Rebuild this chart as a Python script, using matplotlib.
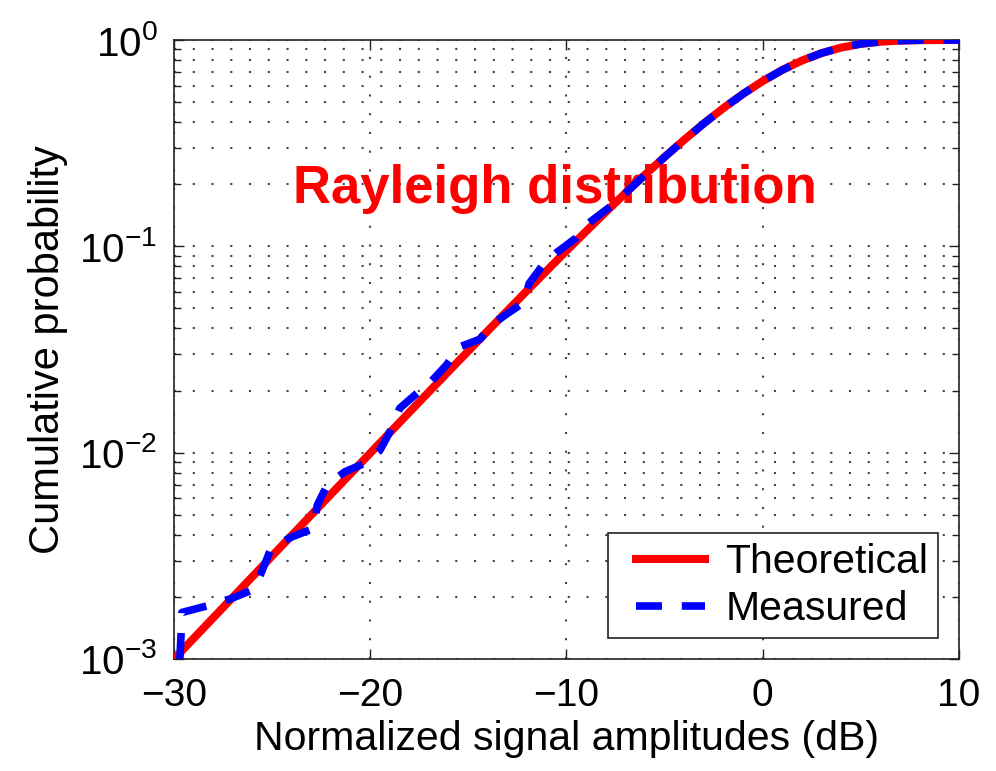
import matplotlib
matplotlib.use('Agg')
import matplotlib.pyplot as plt
from matplotlib.ticker import NullFormatter, LogLocator
from matplotlib.legend_handler import HandlerLine2D

plt.rcParams['font.family'] = ['Liberation Sans', 'DejaVu Sans']
plt.rcParams['mathtext.fontset'] = 'custom'
plt.rcParams['mathtext.rm'] = 'Liberation Sans'
plt.rcParams['mathtext.it'] = 'Liberation Sans:italic'
plt.rcParams['mathtext.bf'] = 'Liberation Sans:bold'

# Theoretical Rayleigh CDF (dB, probability)
theo_db = [-30, -28, -26, -24, -22, -20, -18, -16, -14, -12, -10, -9, -8, -7, -6,
           -5, -4, -3, -2, -1, 0, 1, 2, 3, 4, 5, 6, 7, 8, 9, 10]
theo_p = [0.0009995, 0.0015836, 0.0025087, 0.0039732, 0.0062897, 0.0099502,
          0.015724, 0.024806, 0.039029, 0.061147, 0.095163, 0.11829, 0.14657,
          0.18088, 0.22219, 0.27114, 0.32838, 0.39418, 0.46794, 0.54812,
          0.63212, 0.71606, 0.79502, 0.86403, 0.91888, 0.95767, 0.98133,
          0.99335, 0.99818, 0.99965, 0.99995]

# Measured CDF
meas_db = [-29.7, -29.65, -29.6, -28.3, -27.1, -25.9, -25.4, -25.06, -24.04, -22.9,
           -22.7, -22.2, -21.3, -20.3, -19.5, -19.0, -18.5, -17.7, -16.9, -16.1,
           -15.5, -14.4, -13.8, -12.2, -11.9, -11.2, -10.5, -9.5, -8.9, -7.8,
           -7, -6, -5, -4, -3, -2, -1, 0, 1, 2, 3, 4, 5, 6, 7, 8, 9, 10]
meas_p = [0.001, 0.00126, 0.00168, 0.00181, 0.00196, 0.00218, 0.00284, 0.00342,
          0.00389, 0.00429, 0.00556, 0.00695, 0.00807, 0.00887, 0.0103, 0.0126,
          0.0164, 0.0191, 0.0221, 0.0267, 0.0324, 0.0355, 0.0419, 0.0533, 0.0661,
          0.0813, 0.0933, 0.110, 0.129, 0.155,
          0.181, 0.222, 0.271, 0.328, 0.394, 0.468, 0.548, 0.632, 0.716, 0.795,
          0.864, 0.919, 0.958, 0.981, 0.993, 0.998, 0.9997, 0.99995]

x_ticks = [-30, -20, -10, 0, 10]
y_ticks = [1e-3, 1e-2, 1e-1, 1]
y_labels = [r'$10^{-3}$', r'$10^{-2}$', r'$10^{-1}$', r'$10^{0}$']


class PaddedLine(HandlerLine2D):
    # legend line starts a bit right of the handle box, like the original
    def get_xdata(self, legend, xdescent, ydescent, width, height, fontsize):
        xd, xd_marker = super().get_xdata(legend, xdescent, ydescent, width, height, fontsize)
        pad = 0.2 * width
        return [xd[0] + pad, xd[1]], xd_marker


fig = plt.figure(figsize=(9.96, 7.71), dpi=100)
ax = fig.add_axes([0.1747, 0.1453, 0.7881, 0.8028])

ax.plot(theo_db, theo_p, color='#ff0000', lw=5.8, label='Theoretical', zorder=3)
ax.plot(meas_db, meas_p, color='#0000ff', lw=5.5, dashes=(3.4, 2.6),
        label='Measured', zorder=4)

ax.set_yscale('log')
ax.set_xlim(-30, 10)
ax.set_ylim(1e-3, 1)
ax.set_xticks(x_ticks)
ax.set_xticklabels([str(v).replace('-', '\u2212') for v in x_ticks])
ax.set_yticks(y_ticks)
ax.set_yticklabels(y_labels)
ax.yaxis.set_minor_locator(LogLocator(base=10, subs=range(2, 10)))
ax.yaxis.set_minor_formatter(NullFormatter())

grid_style = dict(color='#444444', linestyle=(0, (1, 8)), linewidth=1.5)
ax.grid(True, which='both', axis='y', **grid_style)
ax.grid(True, which='major', axis='x', **grid_style)
ax.set_axisbelow(True)

ax.tick_params(which='both', direction='in', top=True, right=True,
               labelsize=28, width=1, color='#222222')
ax.tick_params(axis='y', labelsize=29)
ax.tick_params(which='major', length=7)
ax.tick_params(which='minor', length=5)
ax.tick_params(axis='x', pad=14)
ax.tick_params(axis='y', pad=12)
for s in ax.spines.values():
    s.set_linewidth(1.2)
    s.set_color('#222222')

ax.set_xlabel('Normalized signal amplitudes (dB)', fontsize=29.5, labelpad=4)
ax.set_ylabel('Cumulative probability', fontsize=30, labelpad=8)

ax.text(-10.6, 0.19, 'Rayleigh distribution', color='#ff0000', fontsize=38,
        fontweight='bold', ha='center', va='center')

leg = ax.legend(loc='lower right', fontsize=29.5, fancybox=False, framealpha=1,
                edgecolor='#222222', handlelength=2.1, handletextpad=0.5,
                labelspacing=0.22, borderpad=0.25, borderaxespad=0.5,
                handler_map={plt.Line2D: PaddedLine()})
leg.get_frame().set_linewidth(1.2)

fig.savefig('out.png', dpi=100)
